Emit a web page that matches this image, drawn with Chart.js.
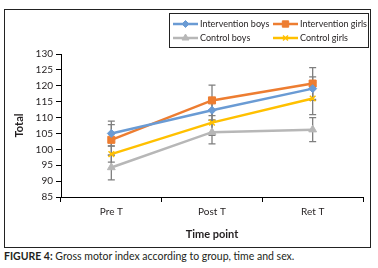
<!DOCTYPE html>
<html lang="en">
<head>
    <meta charset="UTF-8">
    <title>Gross motor index</title>
    <script src="https://cdn.jsdelivr.net/npm/chart.js"></script>
    <style>
        body { margin: 0; width: 378px; height: 268px; background: #fff; position: relative; overflow: hidden; }
        #frame { position: absolute; left: 4px; top: 9px; width: 367px; height: 239px; box-sizing: border-box; border: 1px solid #222; }
        #frame canvas { position: absolute; left: 0; top: 0; }
        #caption { position: absolute; left: 4px; top: 250px; font: 10.5px Lato, sans-serif; color: #231f20; white-space: nowrap; }
        #caption b { font-weight: bold; }
    </style>
</head>
<body>
    <div id="frame"><canvas id="motorChart" width="365" height="237"></canvas></div>
    <div id="caption"><b>FIGURE 4:</b> Gross motor index according to group, time and sex.</div>

    <script>
        // data
        const timePoints = ['Pre T', 'Post T', 'Ret T'];
        const yTicks = [85, 90, 95, 100, 105, 110, 115, 120, 125, 130];

        const interventionBoys = [105.0, 112.3, 119.1];
        const interventionGirls = [103.0, 115.4, 120.7];
        const controlBoys = [94.3, 105.4, 106.2];
        const controlGirls = [98.5, 108.4, 116.0];

        // +/- error values
        const errInterventionBoys = [3.9, 3.0, 3.7];
        const errInterventionGirls = [4.8, 4.8, 5.0];
        const errControlBoys = [3.9, 3.7, 3.8];
        const errControlGirls = [2.5, 4.0, 5.1];

        const FONT = 'Lato, sans-serif';

        function series(label, data, err, color, style, radius) {
            return {
                label: label,
                data: data,
                errors: err,
                borderColor: color,
                backgroundColor: color,
                borderWidth: 2.5,
                pointStyle: style,
                pointRadius: radius,
                pointHoverRadius: radius,
                pointBorderWidth: style === 'crossRot' ? 1.5 : 1,
                tension: 0
            };
        }

        // error bars, drawn behind the lines
        const errorBars = {
            id: 'errorBars',
            beforeDatasetsDraw(chart) {
                const ctx = chart.ctx;
                const y = chart.scales.y;
                ctx.save();
                ctx.strokeStyle = '#7f7f7f';
                ctx.lineWidth = 1.3;
                chart.data.datasets.forEach((ds, i) => {
                    chart.getDatasetMeta(i).data.forEach((pt, j) => {
                        const top = y.getPixelForValue(ds.data[j] + ds.errors[j]);
                        const bot = y.getPixelForValue(ds.data[j] - ds.errors[j]);
                        ctx.beginPath();
                        ctx.moveTo(pt.x, top); ctx.lineTo(pt.x, bot);
                        ctx.moveTo(pt.x - 3.5, top); ctx.lineTo(pt.x + 3.5, top);
                        ctx.moveTo(pt.x - 3.5, bot); ctx.lineTo(pt.x + 3.5, bot);
                        ctx.stroke();
                    });
                });
                ctx.restore();
            }
        };

        // boxed 2x2 legend in the top right corner
        const boxLegend = {
            id: 'boxLegend',
            afterDraw(chart) {
                const ctx = chart.ctx;
                const bx = 164, by = 3, bw = 199, bh = 34;
                ctx.save();
                ctx.strokeStyle = '#222';
                ctx.lineWidth = 1;
                ctx.strokeRect(bx + 0.5, by + 0.5, bw, bh);
                ctx.font = '9px ' + FONT;
                ctx.textBaseline = 'middle';
                ctx.fillStyle = '#231f20';
                chart.data.datasets.forEach((ds, i) => {
                    const col = i % 2, row = Math.floor(i / 2);
                    const x0 = 168 + col * 100, yy = 14 + row * 14;
                    ctx.strokeStyle = ds.borderColor;
                    ctx.lineWidth = 2.5;
                    ctx.beginPath();
                    ctx.moveTo(x0, yy); ctx.lineTo(x0 + 25, yy);
                    ctx.stroke();
                    ctx.fillStyle = ds.backgroundColor;
                    ctx.strokeStyle = ds.borderColor;
                    ctx.lineWidth = ds.pointBorderWidth;
                    Chart.helpers.drawPoint(ctx, { pointStyle: ds.pointStyle, radius: ds.pointRadius - 0.5, borderWidth: ds.pointBorderWidth }, x0 + 12.5, yy);
                    if (ds.pointStyle === 'crossRot') {
                        Chart.helpers.drawPoint(ctx, { pointStyle: ds.pointStyle, radius: ds.pointRadius - 0.5 }, x0 + 9, yy);
                    }
                    ctx.fillStyle = '#231f20';
                    ctx.fillText(ds.label, x0 + 27, yy);
                });
                ctx.restore();
            }
        };

        const ctx = document.getElementById('motorChart').getContext('2d');
        const motorChart = new Chart(ctx, {
            type: 'line',
            data: {
                labels: timePoints,
                datasets: [
                    series('Intervention boys', interventionBoys, errInterventionBoys, '#6a9bd4', 'rectRot', 4),
                    series('Intervention girls', interventionGirls, errInterventionGirls, '#ed7d31', 'rect', 5),
                    series('Control boys', controlBoys, errControlBoys, '#b7b7b7', 'triangle', 4.5),
                    series('Control girls', controlGirls, errControlGirls, '#ffc000', 'crossRot', 4)
                ]
            },
            options: {
                responsive: false,
                animation: false,
                layout: { padding: { top: 44, right: 7, bottom: 0, left: 0 } },
                plugins: {
                    legend: { display: false },
                    tooltip: { enabled: false }
                },
                scales: {
                    x: {
                        offset: true,
                        grid: { offset: true, drawOnChartArea: false, tickLength: 5, color: '#000', lineWidth: 1 },
                        border: { color: '#000', width: 1 },
                        ticks: { color: '#231f20', font: { family: FONT, size: 10 }, padding: 4, maxRotation: 0 },
                        title: { display: true, text: 'Time point', color: '#231f20', font: { family: FONT, size: 11, weight: 'bold' }, padding: { top: 4, bottom: 6 } },
                        afterFit(scale) { scale.height = 50; }
                    },
                    y: {
                        min: yTicks[0],
                        max: yTicks[yTicks.length - 1],
                        afterBuildTicks(scale) { scale.ticks = yTicks.map(v => ({ value: v })); },
                        grid: { drawOnChartArea: false, tickLength: 5, color: '#000', lineWidth: 1 },
                        border: { color: '#000', width: 1 },
                        ticks: { color: '#231f20', font: { family: FONT, size: 10 }, padding: 3 },
                        title: { display: true, text: 'Total', color: '#231f20', font: { family: FONT, size: 11, weight: 'bold' }, padding: { top: 8, bottom: 0 } },
                        afterFit(scale) { scale.width = 56; }
                    }
                }
            },
            plugins: [errorBars, boxLegend]
        });
    </script>
</body>
</html>
